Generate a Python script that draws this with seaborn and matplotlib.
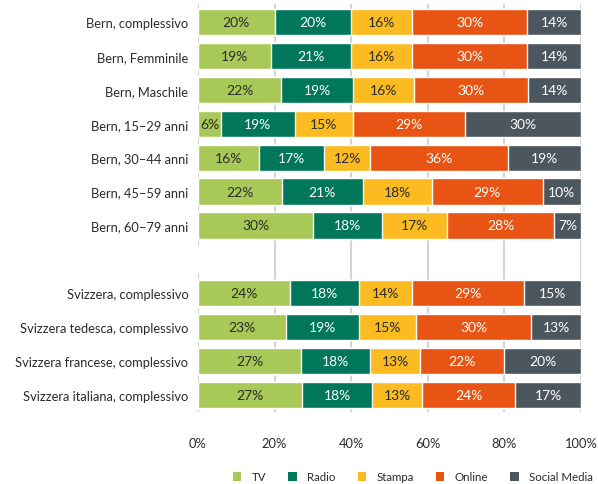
import numpy as np
import pandas as pd
import seaborn as sns
import matplotlib.pyplot as plt
from matplotlib.patches import Patch

# data
groups = ["Bern, complessivo", "Bern, Femminile", "Bern, Maschile",
          "Bern, 15–29 anni", "Bern, 30–44 anni", "Bern, 45–59 anni",
          "Bern, 60–79 anni", " ",
          "Svizzera, complessivo", "Svizzera tedesca, complessivo",
          "Svizzera francese, complessivo", "Svizzera italiana, complessivo"]
media = ["TV", "Radio", "Stampa", "Online", "Social Media"]
tv     = [20, 19, 22, 6, 16, 22, 30, 0, 24, 23, 27, 27]
radio  = [20, 21, 19, 19, 17, 21, 18, 0, 18, 19, 18, 18]
stampa = [16, 16, 16, 15, 12, 18, 17, 0, 14, 15, 13, 13]
online = [30, 30, 30, 29, 36, 29, 28, 0, 29, 30, 22, 24]
social = [14, 14, 14, 30, 19, 10, 7, 0, 15, 13, 20, 17]

colors = ["#a8c957", "#00775a", "#fbbb21", "#e75414", "#4b565e"]
text_colors = ["#2b2b2b", "white", "#2b2b2b", "white", "white"]

df = pd.DataFrame({"group": groups, "TV": tv, "Radio": radio, "Stampa": stampa,
                   "Online": online, "Social Media": social})
tot = df[media].sum(axis=1).replace(0, 1)
shares = df[media].div(tot, axis=0) * 100
cum = shares.cumsum(axis=1)
cum["group"] = groups

sns.set_style("white")
plt.rcParams["font.family"] = ["Lato", "DejaVu Sans"]

fig = plt.figure(figsize=(5.98, 4.85), dpi=100)
ax = fig.add_axes([198 / 598, 1 - 413 / 485, 383 / 598, 408 / 485])

# stacked bars: draw cumulative totals from the right-most segment back
for i in range(len(media) - 1, -1, -1):
    sns.barplot(data=cum, x=media[i], y="group", order=groups, orient="h",
                color=colors[i], saturation=1, width=0.77, ax=ax, zorder=2)

for r in range(len(groups)):
    if groups[r].strip() == "":
        continue
    left = 0
    for i, m in enumerate(media):
        w = shares.iloc[r][m]
        ax.text(left + w / 2, r, "%d%%" % df.iloc[r][m], ha="center", va="center",
                color=text_colors[i], fontsize=10, zorder=3)
        left += w

ax.set_xlim(0, 100)
ax.set_ylim(11.5, -0.53)
ax.set_xticks(np.arange(0, 101, 20))
ax.set_xticklabels(["%d%%" % v for v in range(0, 101, 20)])
ax.set_xlabel("")
ax.set_ylabel("")
ax.tick_params(axis="both", length=0, labelsize=9.3, colors="#2b2b2b")
ax.tick_params(axis="x", pad=18)
ax.tick_params(axis="y", pad=7)
ax.grid(axis="x", color="#d4d4d4", linewidth=1.5, zorder=0)
ax.set_axisbelow(True)
for s in ax.spines.values():
    s.set_visible(False)

handles = [Patch(facecolor=c, edgecolor="none") for c in colors]
fig.legend(handles, media, loc="center", bbox_to_anchor=(413 / 598, 1 - 478 / 485),
           ncol=5, frameon=False, fontsize=8.3, handlelength=0.75, handleheight=0.75,
           handletextpad=0.9, columnspacing=1.9, labelcolor="#2b2b2b")

plt.savefig("out.png", dpi=100)
